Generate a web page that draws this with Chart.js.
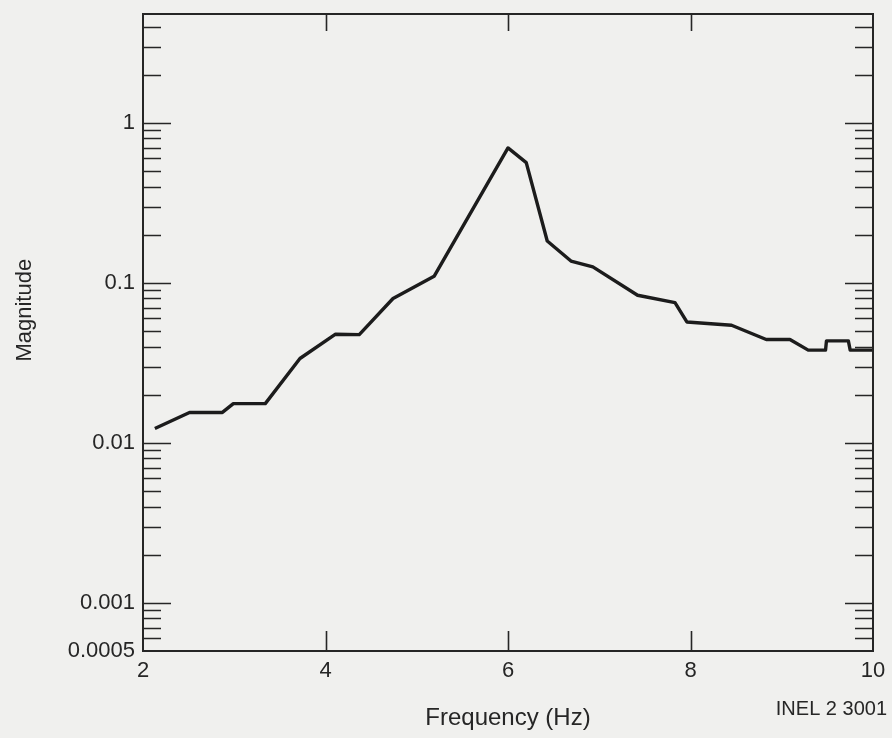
<!DOCTYPE html>
<html>
<head>
<meta charset="utf-8">
<script src="https://cdn.jsdelivr.net/npm/chart.js@4.4.1/dist/chart.umd.min.js"></script>
<style>
  html, body { margin: 0; padding: 0; background: #f0f0ee; }
  #wrap { width: 892px; height: 738px; position: relative; }
</style>
</head>
<body>
<div id="wrap"><canvas id="chart"></canvas></div>
<script>
// frequency (Hz) and magnitude
const freq = [2.13, 2.51, 2.87, 2.99, 3.34, 3.72, 4.11, 4.37, 4.74, 5.19, 6.0, 6.2, 6.43, 6.69, 6.93, 7.42, 7.83, 7.96, 8.45, 8.83, 9.09, 9.29, 9.48, 9.49, 9.73, 9.75, 10.0];
const magnitude = [0.0123, 0.0155, 0.0155, 0.0176, 0.0176, 0.0337, 0.0478, 0.0475, 0.0799, 0.110, 0.698, 0.565, 0.183, 0.137, 0.126, 0.0838, 0.0754, 0.057, 0.0544, 0.0443, 0.0443, 0.038, 0.038, 0.0434, 0.0434, 0.038, 0.038];

const xTickLabels = [2, 4, 6, 8, 10];
const yTickLabels = [0.0005, 0.001, 0.01, 0.1, 1];
const yMajorTicks = [0.001, 0.01, 0.1, 1];
const xInnerTicks = [4, 6, 8];

const ink = "#262626";
const fontFamily = "'Liberation Sans', Arial, sans-serif";

// minor log ticks 2..9 in each decade
const yMinorTicks = [];
for (let e = -4; e <= 0; e++) {
    for (let m = 2; m <= 9; m++) {
        const v = m * Math.pow(10, e);
        if (v > 0.0005 && v < 4.8) yMinorTicks.push(v);
    }
}

// frame plus inward tick marks on all four sides, y title and the figure code
const frameTicks = {
    id: "frameTicks",
    afterDraw(chart) {
        const { ctx, chartArea: a, scales: { x, y } } = chart;
        ctx.save();
        ctx.strokeStyle = ink;
        ctx.lineWidth = 2;
        ctx.strokeRect(a.left, a.top, a.right - a.left, a.bottom - a.top);

        ctx.lineWidth = 1.6;
        ctx.beginPath();
        const yTick = (v, len) => {
            const py = Math.round(y.getPixelForValue(v)) + 0.5;
            ctx.moveTo(a.left, py); ctx.lineTo(a.left + len, py);
            ctx.moveTo(a.right, py); ctx.lineTo(a.right - len, py);
        };
        yMinorTicks.forEach(v => yTick(v, 18));
        yMajorTicks.forEach(v => yTick(v, 28));
        xInnerTicks.forEach(v => {
            const px = Math.round(x.getPixelForValue(v)) + 0.5;
            ctx.moveTo(px, a.bottom); ctx.lineTo(px, a.bottom - 20);
            ctx.moveTo(px, a.top); ctx.lineTo(px, a.top + 17);
        });
        ctx.stroke();

        ctx.fillStyle = ink;
        ctx.textBaseline = "middle";
        ctx.textAlign = "center";
        ctx.font = "22px " + fontFamily;
        ctx.save();
        ctx.translate(25, a.top + (a.bottom - a.top) * 0.465);
        ctx.rotate(-Math.PI / 2);
        ctx.fillText("Magnitude", 0, 0);
        ctx.restore();

        ctx.font = "20px " + fontFamily;
        ctx.textAlign = "right";
        ctx.fillText("INEL 2 3001", a.right + 14, 709);
        ctx.restore();
    }
};

const ctx = document.getElementById("chart").getContext("2d");
new Chart(ctx, {
    type: "scatter",
    data: {
        datasets: [{
            data: freq.map((f, i) => ({ x: f, y: magnitude[i] })),
            showLine: true,
            borderColor: "#1c1c1c",
            borderWidth: 3.4,
            pointRadius: 0,
            tension: 0,
            borderJoinStyle: "round",
        }],
    },
    options: {
        responsive: true,
        maintainAspectRatio: false,
        animation: false,
        layout: { padding: { top: 14, right: 19, left: 0, bottom: 0 } },
        plugins: {
            legend: { display: false },
            tooltip: { enabled: false },
        },
        scales: {
            x: {
                type: "linear",
                min: 2,
                max: 10,
                afterFit: (axis) => {
                    axis.height = 87;
                    axis.paddingLeft = 0;
                    axis.paddingRight = 0;
                },
                afterBuildTicks: (axis) => { axis.ticks = xTickLabels.map(v => ({ value: v })); },
                grid: { display: false, drawTicks: false },
                border: { display: false },
                ticks: {
                    color: ink,
                    padding: 7,
                    font: { family: fontFamily, size: 22 },
                    callback: (v) => String(v),
                },
                title: {
                    display: true,
                    text: "Frequency (Hz)",
                    color: ink,
                    font: { family: fontFamily, size: 24 },
                    padding: { top: 0, bottom: 5 },
                },
            },
            y: {
                type: "logarithmic",
                min: 0.0005,
                max: 4.8,
                afterFit: (axis) => {
                    axis.width = 143;
                    axis.paddingTop = 0;
                    axis.paddingBottom = 0;
                },
                afterBuildTicks: (axis) => { axis.ticks = yTickLabels.map(v => ({ value: v })); },
                grid: { display: false, drawTicks: false },
                border: { display: false },
                ticks: {
                    color: ink,
                    padding: 8,
                    font: { family: fontFamily, size: 22 },
                    callback: (v) => String(v),
                },
            },
        },
    },
    plugins: [frameTicks],
});
</script>
</body>
</html>
